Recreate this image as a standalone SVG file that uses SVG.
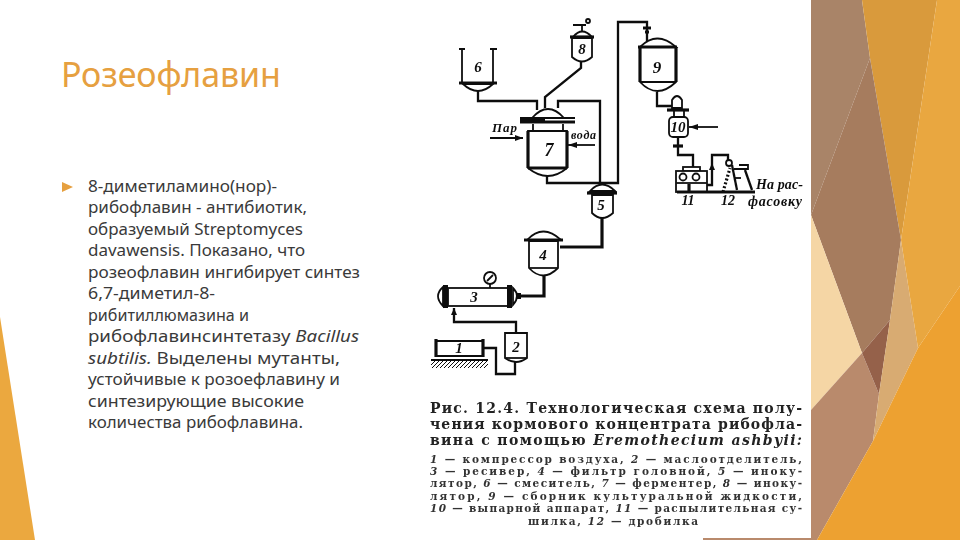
<svg xmlns="http://www.w3.org/2000/svg" width="960" height="540" viewBox="0 0 960 540">
<style>
.title{font:34px "Noto Sans","DejaVu Sans",sans-serif;fill:#E6A040}
.body{font:16px "Noto Sans","DejaVu Sans",sans-serif;fill:#3a3a3a}
.cap{font:bold 14px "DejaVu Serif","Liberation Serif",serif;fill:#222}
.small{font:bold 10.5px "DejaVu Serif","Liberation Serif",serif;fill:#333}
.lab{font:italic bold 12px "Liberation Serif",serif;fill:#111}
.num{font:italic bold 15px "Liberation Serif",serif;fill:#111;text-anchor:middle}
.s{fill:none;stroke:#111;stroke-width:1.8}
.w{fill:#fff;stroke:#111;stroke-width:1.8}
.t{fill:none;stroke:#111;stroke-width:3.2}
.p{fill:none;stroke:#111;stroke-width:2.3}
.ar{fill:#111}
</style>
<defs>
<filter id="soft" x="-5%" y="-5%" width="110%" height="110%"><feGaussianBlur stdDeviation="0.4"/></filter>
<pattern id="hatch" width="4" height="4" patternUnits="userSpaceOnUse"><path d="M0 4L4 0" stroke="#111" stroke-width="1"/></pattern>
</defs>
<rect width="960" height="540" fill="#fff"/>
<g id="decor">
<polygon points="0,317 35,540 0,540" fill="#EBA83F"/>
<rect x="703" y="538" width="108" height="2" fill="#B98A6C"/>
<polygon points="811,0 862,0 870,58 811,215" fill="#A98468"/>
<polygon points="862,0 937,0 901,240 870,58" fill="#D99A3C"/>
<polygon points="870,58 901,240 890,320 862,353 811,215" fill="#A67C5E"/>
<polygon points="811,215 862,353 811,410" fill="#F5D6A5"/>
<polygon points="811,410 862,353 879,394 873,441 817,540 811,540" fill="#B98A6C"/>
<polygon points="862,353 890,320 879,394" fill="#95614A"/>
<polygon points="901,240 918,348 873,441 879,394 890,320" fill="#D8AB72"/>
<polygon points="937,0 960,0 960,286 918,348 901,240" fill="#E9A740"/>
<polygon points="960,286 960,540 817,540 873,441 918,348" fill="#EDA131"/>
</g>
<g id="title"><text class="title" x="61" y="87" textLength="220">Розеофлавин</text></g>
<g id="bullet"><polygon points="62,182 73,187 62,192" fill="#E6A040"/></g>
<g id="body-text">
<text class="body" x="88" y="192" textLength="189" lengthAdjust="spacingAndGlyphs">8-диметиламино(нор)-</text>
<text class="body" x="88" y="213" textLength="219" lengthAdjust="spacingAndGlyphs">рибофлавин - антибиотик,</text>
<text class="body" x="88" y="235" textLength="215" lengthAdjust="spacingAndGlyphs">образуемый Streptomyces</text>
<text class="body" x="88" y="256" textLength="217" lengthAdjust="spacingAndGlyphs">davawensis. Показано, что</text>
<text class="body" x="88" y="278" textLength="272" lengthAdjust="spacingAndGlyphs">розеофлавин ингибирует синтез</text>
<text class="body" x="88" y="299" textLength="127" lengthAdjust="spacingAndGlyphs">6,7-диметил-8-</text>
<text class="body" x="88" y="321" textLength="161" lengthAdjust="spacingAndGlyphs">рибитиллюмазина и</text>
<text class="body" x="88" y="342" textLength="271" lengthAdjust="spacingAndGlyphs">рибофлавинсинтетазу <tspan font-style="italic">Bacillus</tspan></text>
<text class="body" x="88" y="364" textLength="252" lengthAdjust="spacingAndGlyphs"><tspan font-style="italic">subtilis.</tspan> Выделены мутанты,</text>
<text class="body" x="88" y="385" textLength="252" lengthAdjust="spacingAndGlyphs">устойчивые к розоефлавину и</text>
<text class="body" x="88" y="407" textLength="216" lengthAdjust="spacingAndGlyphs">синтезирующие высокие</text>
<text class="body" x="88" y="428" textLength="215" lengthAdjust="spacingAndGlyphs">количества рибофлавина.</text>
</g>
<g filter="url(#soft)">
<g id="connectors">
<path class="p" d="M478 90V101H537V110"/>
<path class="p" d="M581 62V68L545 97V108"/>
<path class="p" d="M558 108V101H600V183"/>
<path class="p" d="M547 175V183H618V22H647V42"/>
<path class="t" d="M602 218V247H560"/>
<path class="t" d="M544 275V296H520"/>
<path class="p" d="M454 308V322H516V333"/>
<path class="p" d="M515 362V374H496V348H483"/>
<path class="p" d="M657 92V106H672"/>
<path class="p" d="M678 137V155H693V167"/>
<path class="p" d="M707 185H712V155H728V160"/>
<path class="s" d="M490 138H523"/><polygon class="ar" points="523,138 515,135 515,141"/>
<path class="s" d="M595 145H568"/><polygon class="ar" points="568,145 577,142 577,148"/>
<path class="s" d="M718 127H689"/><polygon class="ar" points="689,127 698,124 698,130"/>
<polygon class="ar" points="712,163 709,170 715,170"/>
<polygon class="ar" points="454,308 451,315 457,315"/>
<path class="t" d="M643 28H651M645 32H649"/>
</g>
<g id="node-6">
<path class="w" d="M462 83V49M493 49V83M459 49H465M490 49H497"/>
<path class="w" d="M463 84Q478 98 493 84Z"/>
<path class="t" d="M459 83H497"/>
<text class="num" x="478" y="72">6</text>
</g>
<g id="node-8">
<path class="w" d="M573 37Q582 26 592 37Z"/>
<path class="w" d="M572 38H592V57Q582 66 572 57Z"/>
<path class="t" d="M570 37H594"/>
<path class="s" d="M582 31V25M573 25H586"/>
<circle class="s" cx="588" cy="21" r="2"/>
<text class="num" x="582" y="54">8</text>
</g>
<g id="node-7">
<path class="w" d="M532 118Q548 100 564 118Z"/>
<rect x="520" y="117" width="55" height="6.500" fill="#111"/>
<rect x="545" y="119" width="30" height="1.500" fill="#fff"/>
<path class="s" d="M533 124V131M563 124V131"/>
<path class="w" d="M528 131H567V168Q548 184 528 168Z"/>
<path class="t" d="M528 131V168M567 131V168M528 168H567"/>
<text class="num" x="549" y="156" style="font-size:18px">7</text>
</g>
<g id="node-5">
<path class="w" d="M590 191Q602 178 615 191Z"/>
<path class="w" d="M592 195H613V213Q602 223 592 213Z"/>
<path class="t" d="M587 193H617"/>
<text class="num" x="601" y="210">5</text>
</g>
<g id="node-4">
<path class="w" d="M527 240Q543 223 561 240Z"/>
<path class="w" d="M529 241H558V268Q543 283 529 268Z"/>
<path class="t" d="M524 240H563"/>
<path class="s" d="M529 268H558"/>
<text class="num" x="543" y="260">4</text>
</g>
<g id="node-3">
<path class="w" d="M443 287Q433 296 443 306Z"/>
<path class="w" d="M513 288Q521 296 513 305Z"/>
<rect class="w" x="448" y="288" width="60" height="18"/>
<rect x="443" y="285" width="5" height="23" fill="#111"/>
<rect x="507" y="285" width="5" height="23" fill="#111"/>
<rect x="516" y="293" width="5" height="6" fill="#111"/>
<path class="s" d="M490 284V288"/>
<circle class="w" cx="490" cy="278" r="6"/>
<path class="s" d="M487 281L493 275"/>
<text class="num" x="474" y="302">3</text>
</g>
<g id="node-2">
<path class="w" d="M505 333H527V358Q516 366 505 358Z"/>
<path class="s" d="M505 358H527"/>
<text class="num" x="516" y="352">2</text>
</g>
<g id="node-1">
<path class="t" d="M436 339V357M483 339V357"/>
<path class="s" d="M436 341H483M436 356H483"/>
<rect x="431" y="360" width="57" height="8" fill="url(#hatch)"/>
<path class="s" d="M431 360H488"/>
<text class="num" x="459" y="353">1</text>
</g>
<g id="node-9">
<path class="w" d="M640 47Q657 30 676 47Z"/>
<path class="w" d="M640 47H676V82Q657 100 640 82Z"/>
<path class="t" d="M638 47H677M640 47V82M676 47V82"/>
<path class="s" d="M640 82H676"/>
<text class="num" x="657" y="73" style="font-size:17px">9</text>
</g>
<g id="node-10">
<path class="w" d="M672 108V100Q677 92 682 100V108Z"/>
<path class="t" d="M667 110H689"/>
<path class="s" d="M674 110V118M684 110V118"/>
<rect class="w" x="669" y="117" width="19" height="20" rx="4"/>
<path class="t" d="M673 146H683"/>
<text class="num" x="678" y="132">10</text>
</g>
<g id="node-11">
<rect class="w" x="683" y="167" width="17" height="4"/>
<rect class="w" x="676" y="171" width="31" height="21"/>
<circle class="s" cx="683" cy="177" r="3.500"/>
<circle class="s" cx="696" cy="177" r="3.500"/>
<path class="s" d="M676 183H707"/>
<path class="t" d="M689 184V192"/>
<text class="lab" x="688" y="205" text-anchor="middle" style="font-size:14px">11</text>
</g>
<g id="node-12">
<path class="t" d="M677 192H755"/>
<path class="t" stroke-dasharray="2 2" d="M723 192L730 168"/>
<circle class="s" cx="729" cy="163" r="3"/>
<path class="p" d="M732 165L737 190"/>
<path class="s" d="M734 169H748V167M739 165H748V170"/>
<path class="p" d="M745 170L752 190"/>
<path class="s" d="M735 178H741"/>
<text class="lab" x="728" y="205" text-anchor="middle" style="font-size:14px">12</text>
</g>
<g id="labels">
<text class="lab" x="492" y="132" textLength="25" style="font-size:13px">Пар</text>
<text class="lab" x="571" y="139" textLength="25">вода</text>
<text class="lab" x="756" y="189" textLength="47" style="font-size:14px">На рас-</text>
<text class="lab" x="748" y="206" textLength="54" style="font-size:14px">фасовку</text>
</g>
<g id="caption">
<text class="cap" x="430" y="413" textLength="372">Рис. 12.4. Технологическая схема полу-</text>
<text class="cap" x="430" y="429" textLength="372">чения кормового концентрата рибофла-</text>
<text class="cap" x="430" y="445" textLength="372">вина с помощью <tspan font-style="italic">Eremothecium ashbyii:</tspan></text>
<text class="small" x="430" y="463" textLength="372"><tspan font-style="italic">1</tspan> — компрессор воздуха, <tspan font-style="italic">2</tspan> — маслоотделитель,</text>
<text class="small" x="430" y="475" textLength="372"><tspan font-style="italic">3</tspan> — ресивер, <tspan font-style="italic">4</tspan> — фильтр головной, <tspan font-style="italic">5</tspan> — иноку-</text>
<text class="small" x="430" y="487" textLength="372">лятор, <tspan font-style="italic">6</tspan> — смеситель, <tspan font-style="italic">7</tspan> — ферментер, <tspan font-style="italic">8</tspan> — иноку-</text>
<text class="small" x="430" y="500" textLength="372">лятор, <tspan font-style="italic">9</tspan> — сборник культуральной жидкости,</text>
<text class="small" x="430" y="512" textLength="372"><tspan font-style="italic">10</tspan> — выпарной аппарат, <tspan font-style="italic">11</tspan> — распылительная су-</text>
<text class="small" x="528" y="525" textLength="170">шилка, <tspan font-style="italic">12</tspan> — дробилка</text>
</g>
</g>
</svg>
